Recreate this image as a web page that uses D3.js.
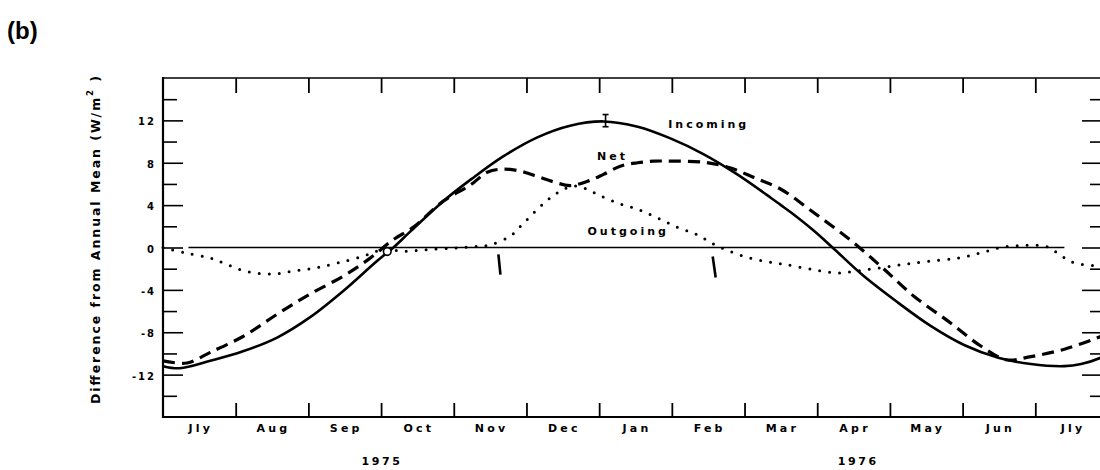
<!DOCTYPE html>
<html><head><meta charset="utf-8">
<script src="https://cdn.jsdelivr.net/npm/d3@7"></script>
<style>body{margin:0;background:#fff;} svg{display:block;}</style>
</head><body><svg id="c" width="1100" height="470"></svg>
<script>
// ---- data (months since 1 July 1975; values in W/m^2) ----
const monthLabels = ["Jly","Aug","Sep","Oct","Nov","Dec","Jan","Feb","Mar","Apr","May","Jun","Jly"];
const yearLabels = ["1975","1976"];
const yearCenters = [3.0, 9.55];
const yMajorTicks = [-12,-8,-4,0,4,8,12];
const yMinorTicks = [-14,-10,-6,-2,2,6,10,14];

const incomingMonth = [0,0.23,0.65,1.1,1.57,2.02,2.48,2.94,3.17,3.4,3.86,4.25,4.68,5.15,5.6,6.06,6.53,6.98,7.44,7.9,8.36,8.5,8.64,8.95,9.21,9.64,10.11,10.56,11.02,11.49,11.94,12.4,12.63,12.9,13.0];
const incomingValue = [-11.2,-11.4,-10.7,-9.8,-8.5,-6.6,-4.1,-1.3,0,1.5,4.4,6.5,8.6,10.4,11.5,11.9,11.4,10.3,8.8,6.9,4.7,4.0,3.3,1.6,0,-2.7,-5.2,-7.4,-9.2,-10.4,-11.0,-11.2,-11.0,-10.4,-10.0];

const netMonth = [0,0.33,0.65,1.1,1.57,2.02,2.48,2.85,3.17,3.44,3.86,4.23,4.46,4.68,4.92,5.15,5.37,5.6,5.84,6.06,6.3,6.53,6.75,6.98,7.44,7.81,8.13,8.5,8.95,9.42,9.88,10.33,10.8,11.25,11.6,11.94,12.4,12.9,13.0];
const netValue = [-10.7,-10.9,-9.9,-8.4,-6.3,-4.4,-2.7,-1.0,0.75,1.9,4.4,5.9,7.1,7.4,7.2,6.7,6.2,5.85,6.25,6.9,7.7,8.0,8.15,8.15,8.05,7.5,6.6,5.5,3.3,0.9,-1.8,-4.6,-6.95,-9.3,-10.6,-10.3,-9.6,-8.4,-8.1];

const outgoingMonth = [0,0.3,0.65,0.88,1.17,1.52,1.82,2.12,2.41,2.76,3.03,3.33,3.63,4.0,4.32,4.5,4.78,4.96,5.15,5.33,5.51,5.65,5.8,5.98,6.25,6.53,6.8,7.08,7.35,7.58,7.85,8.13,8.4,8.6,8.95,9.28,9.57,9.88,10.19,10.52,10.94,11.25,11.53,11.85,12.17,12.36,12.54,12.8,13.0];
const outgoingValue = [0,-0.5,-1.0,-1.6,-2.3,-2.5,-2.2,-1.9,-1.45,-0.8,-0.2,-0.35,-0.2,-0.05,0.1,0.25,1.1,2.3,3.6,4.7,5.5,5.8,5.6,5.0,4.2,3.6,2.8,1.9,1.2,0.3,-0.5,-1.1,-1.45,-1.65,-2.1,-2.4,-2.2,-1.9,-1.6,-1.3,-1.0,-0.5,0,0.2,0.05,-0.8,-1.45,-1.7,-1.8];

const seriesNames = ["Incoming","Net","Outgoing"];
const seriesLabelAt = [[6.95,11.3],[5.97,8.3],[5.84,1.2]];
const zeroLineSpan = [0.35,12.4];
const tickMarks = [[[4.614,-0.66],[4.642,-2.55]],[[7.562,-0.85],[7.603,-2.83]]];
const errorBar = {month:6.088, lo:11.4, hi:12.55};
const openCircle = [3.085,-0.38];

// ---- layout ----
const svg = d3.select("#c");
const L = 163, R = 1108, T = 78, B = 417;
const x = d3.scaleLinear().domain([0,13]).range([L,R]);
const y = d3.scaleLinear().domain([-16,16]).range([B,T]);
const font = "'DejaVu Sans', sans-serif";

svg.append("text").attr("x",7).attr("y",39).attr("font-family","'Liberation Sans', Arial, sans-serif")
  .attr("font-weight","bold").attr("font-size",24).text("(b)");

// frame
const frame = svg.append("g").attr("stroke","#000").attr("fill","none");
frame.append("line").attr("x1",L).attr("x2",L).attr("y1",T-1).attr("y2",B+1).attr("stroke-width",2.2);
frame.append("line").attr("x1",L).attr("x2",R).attr("y1",B).attr("y2",B).attr("stroke-width",2.2);
frame.append("line").attr("x1",L).attr("x2",R).attr("y1",T).attr("y2",T).attr("stroke-width",1.6);
frame.append("line").attr("x1",R).attr("x2",R).attr("y1",T).attr("y2",B).attr("stroke-width",2);

const monthBounds = d3.range(1,13);
// left axis
const leftMajor = d3.axisLeft(y).tickValues(yMajorTicks).tickSizeInner(-20).tickSizeOuter(0).tickPadding(7).tickFormat(d=>String(d));
const gl = svg.append("g").attr("transform",`translate(${L},0)`).call(leftMajor);
gl.select(".domain").remove();
gl.selectAll("line").attr("stroke-width",1.6);
gl.selectAll("text").attr("font-family",font).attr("font-weight","bold").attr("font-size",10)
  .attr("letter-spacing",2).attr("dy","0.45em");
const leftMinor = d3.axisLeft(y).tickValues(yMinorTicks).tickSizeInner(-14).tickSizeOuter(0).tickFormat("");
const glm = svg.append("g").attr("transform",`translate(${L},0)`).call(leftMinor);
glm.select(".domain").remove(); glm.selectAll("line").attr("stroke-width",1.6);

// right axis
const rightMajor = d3.axisRight(y).tickValues(yMajorTicks).tickSizeInner(-26).tickSizeOuter(0).tickFormat("");
const gr = svg.append("g").attr("transform",`translate(${R},0)`).call(rightMajor);
gr.select(".domain").remove(); gr.selectAll("line").attr("stroke-width",1.6);
const rightMinor = d3.axisRight(y).tickValues(yMinorTicks).tickSizeInner(-18).tickSizeOuter(0).tickFormat("");
const grm = svg.append("g").attr("transform",`translate(${R},0)`).call(rightMinor);
grm.select(".domain").remove(); grm.selectAll("line").attr("stroke-width",1.6);

// top axis ticks
const gt = svg.append("g").attr("transform",`translate(0,${T})`)
  .call(d3.axisTop(x).tickValues(monthBounds).tickSizeInner(-15).tickSizeOuter(0).tickFormat(""));
gt.select(".domain").remove(); gt.selectAll("line").attr("stroke-width",1.8);
// bottom axis ticks
const gb = svg.append("g").attr("transform",`translate(0,${B})`)
  .call(d3.axisBottom(x).tickValues(monthBounds).tickSizeInner(-14).tickSizeOuter(0).tickFormat(""));
gb.select(".domain").remove(); gb.selectAll("line").attr("stroke-width",1.8);

// month labels
svg.append("g").selectAll("text").data(monthLabels).join("text")
  .attr("x",(d,i)=>x(i+0.5)+1.5).attr("y",432).attr("text-anchor","middle")
  .attr("font-family",font).attr("font-weight","bold").attr("font-size",11).attr("letter-spacing",3.2)
  .text(d=>d);
// year labels
svg.append("g").selectAll("text").data(yearLabels).join("text")
  .attr("x",(d,i)=>x(yearCenters[i])+1).attr("y",465).attr("text-anchor","middle")
  .attr("font-family",font).attr("font-weight","bold").attr("font-size",11).attr("letter-spacing",2.6)
  .text(d=>d);

// y title
const yt = svg.append("text").attr("transform","translate(100,240) rotate(-90)")
  .attr("text-anchor","middle").attr("font-family",font).attr("font-weight","bold").attr("font-size",12.5)
  .attr("textLength",328).attr("lengthAdjust","spacing");
yt.append("tspan").text("Difference  from  Annual  Mean  (W/m");
yt.append("tspan").attr("font-size",8.5).attr("dy",-7).text("2");
yt.append("tspan").attr("dy",7).text(" )");

// zero line
svg.append("line").attr("x1",x(zeroLineSpan[0])).attr("x2",x(zeroLineSpan[1]))
  .attr("y1",y(0)).attr("y2",y(0)).attr("stroke","#000").attr("stroke-width",1.3);

// series
const mk = (ms,vs)=>ms.map((m,i)=>[m,vs[i]]);
const line = d3.line().x(d=>x(d[0])).y(d=>y(d[1])).curve(d3.curveCatmullRom.alpha(0.5));
svg.append("path").datum(mk(outgoingMonth,outgoingValue)).attr("d",line)
  .attr("fill","none").attr("stroke","#000").attr("stroke-width",3)
  .attr("stroke-linecap","round").attr("stroke-dasharray","0 10");
svg.append("path").datum(mk(netMonth,netValue)).attr("d",line)
  .attr("fill","none").attr("stroke","#000").attr("stroke-width",3.2).attr("stroke-dasharray","12 7");
svg.append("path").datum(mk(incomingMonth,incomingValue)).attr("d",line)
  .attr("fill","none").attr("stroke","#000").attr("stroke-width",2.6);

// series labels
svg.append("g").selectAll("text").data(seriesNames).join("text")
  .attr("x",(d,i)=>x(seriesLabelAt[i][0])).attr("y",(d,i)=>y(seriesLabelAt[i][1]))
  .attr("font-family",font).attr("font-weight","bold").attr("font-size",11).attr("letter-spacing",3)
  .text(d=>d);

// annotations
svg.append("g").selectAll("line").data(tickMarks).join("line")
  .attr("x1",d=>x(d[0][0])).attr("y1",d=>y(d[0][1])).attr("x2",d=>x(d[1][0])).attr("y2",d=>y(d[1][1]))
  .attr("stroke","#000").attr("stroke-width",2.6);
const eb = svg.append("g").attr("stroke","#000").attr("stroke-width",1.6);
eb.append("line").attr("x1",x(errorBar.month)).attr("x2",x(errorBar.month)).attr("y1",y(errorBar.lo)).attr("y2",y(errorBar.hi));
eb.append("line").attr("x1",x(errorBar.month)-3).attr("x2",x(errorBar.month)+3).attr("y1",y(errorBar.hi)).attr("y2",y(errorBar.hi));
eb.append("line").attr("x1",x(errorBar.month)-3).attr("x2",x(errorBar.month)+3).attr("y1",y(errorBar.lo)).attr("y2",y(errorBar.lo));
svg.append("circle").attr("cx",x(openCircle[0])).attr("cy",y(openCircle[1])).attr("r",3.8)
  .attr("fill","#fff").attr("stroke","#000").attr("stroke-width",1.6);
</script></body></html>
